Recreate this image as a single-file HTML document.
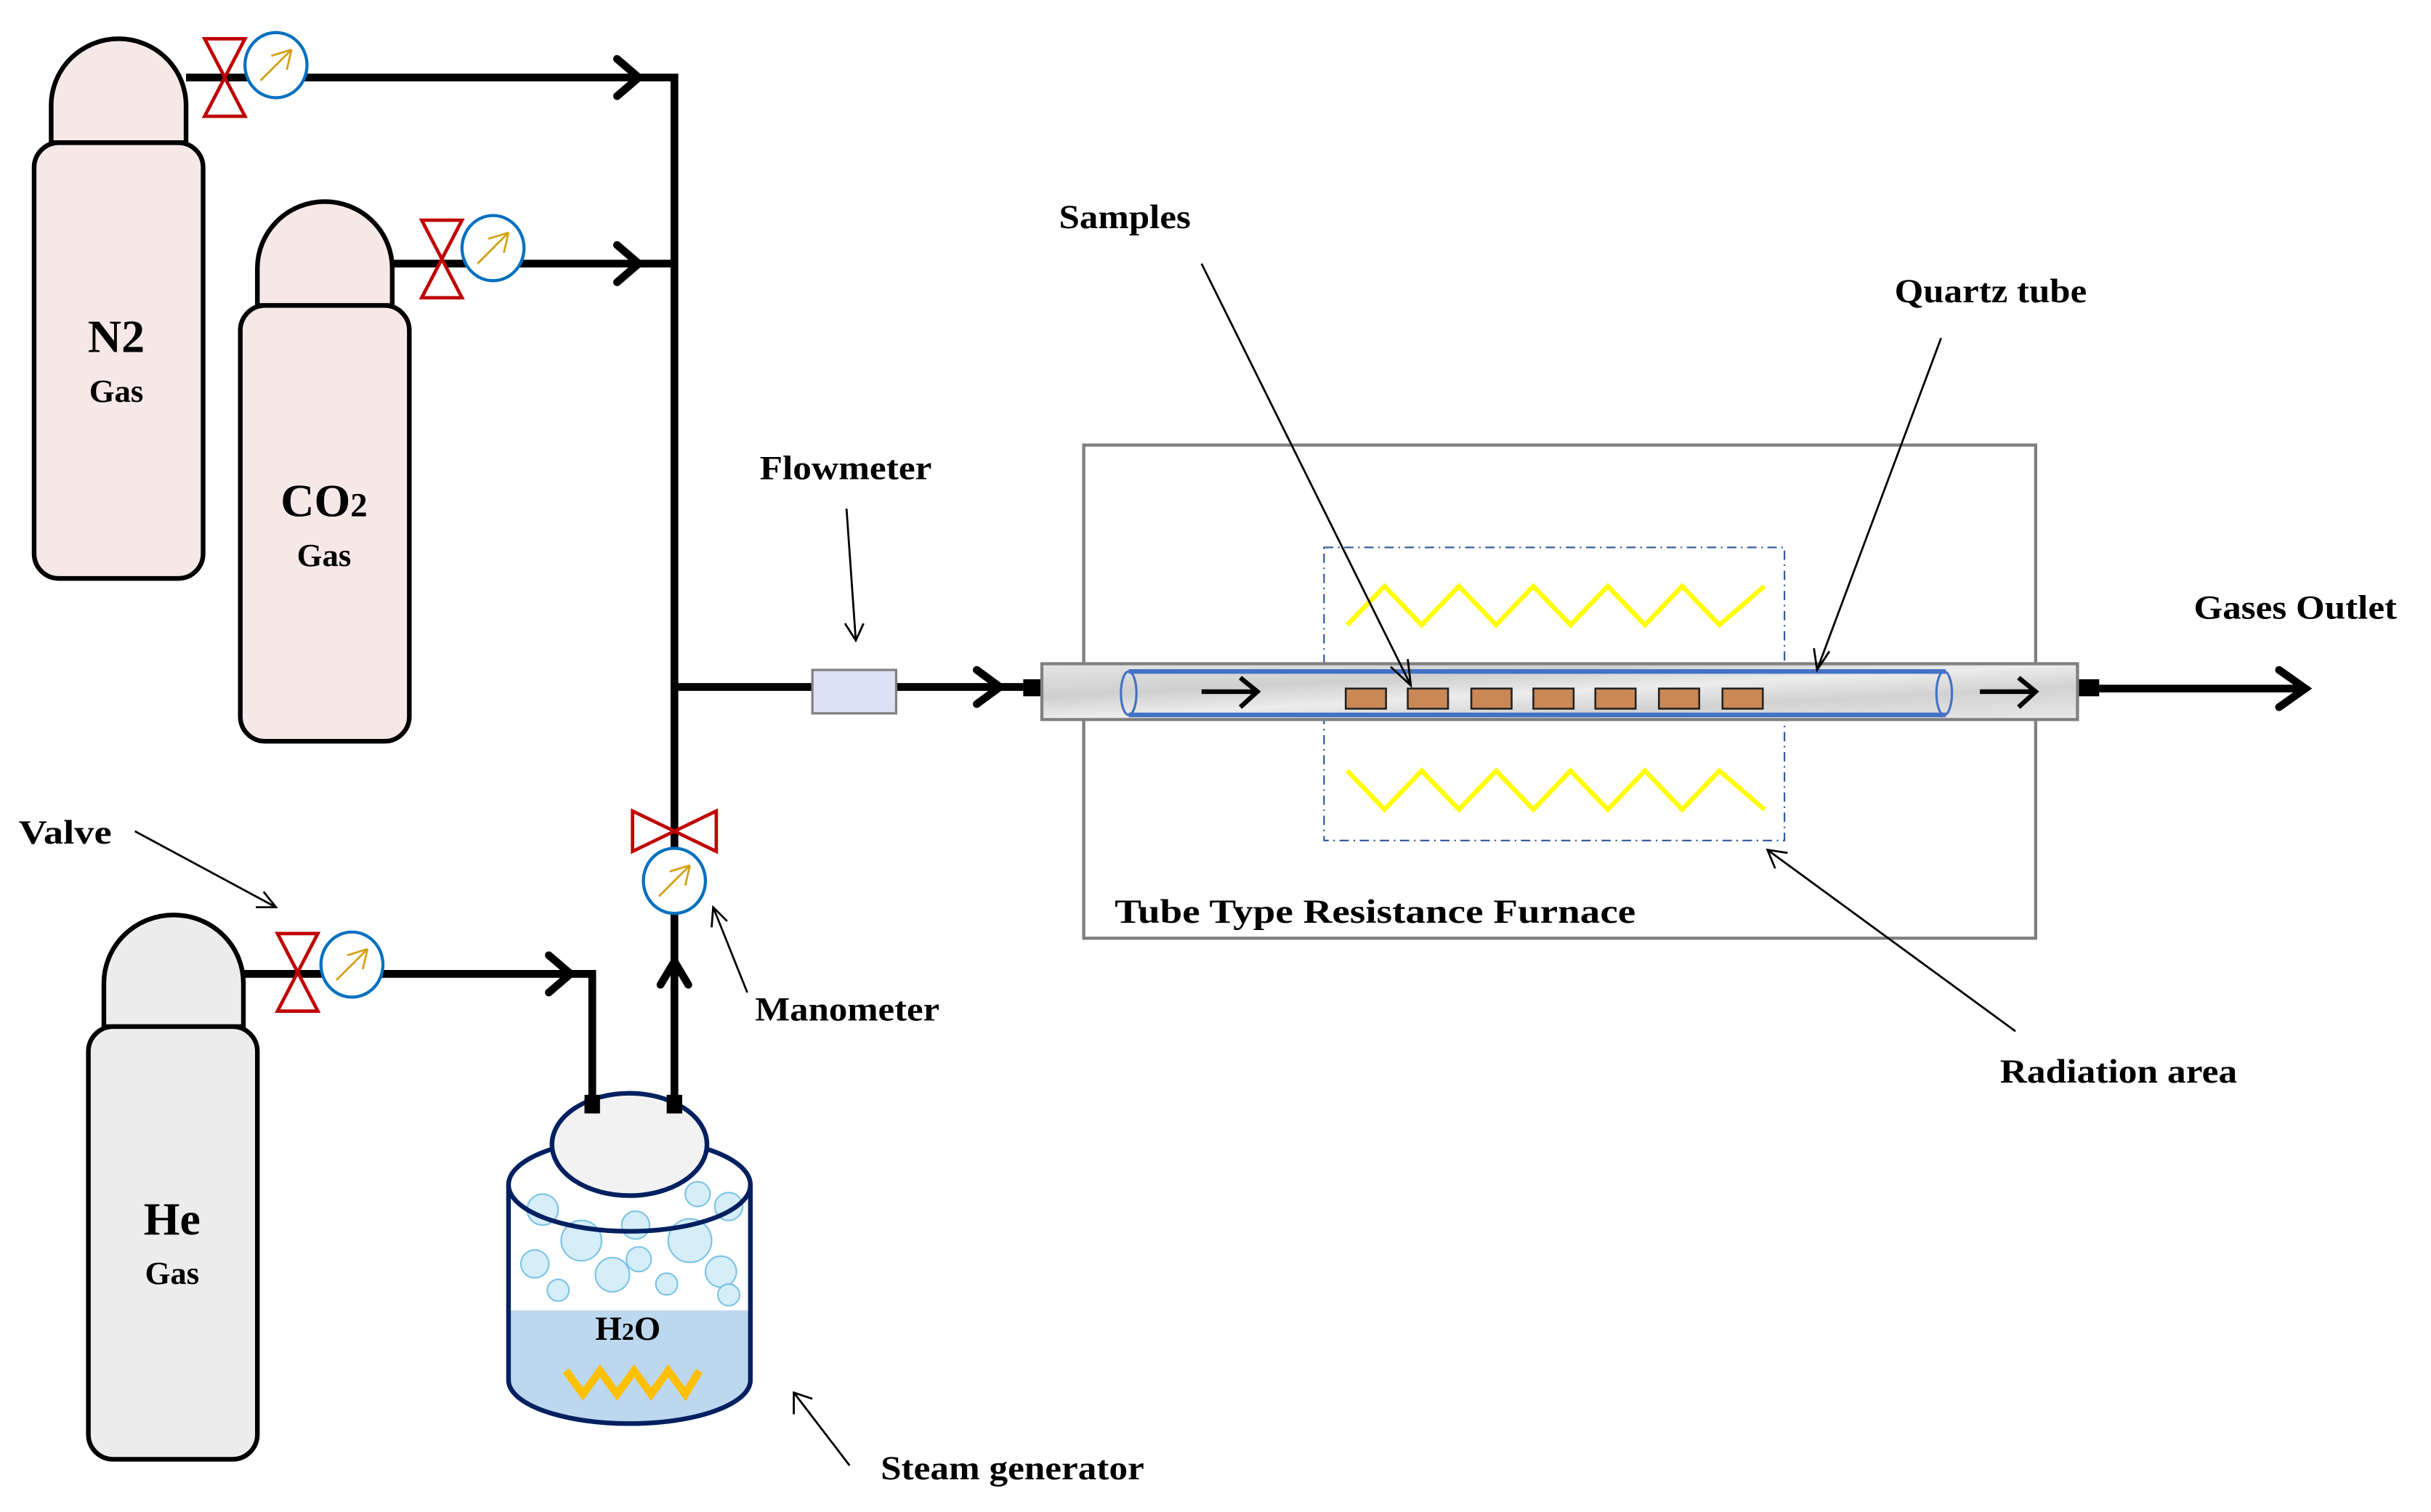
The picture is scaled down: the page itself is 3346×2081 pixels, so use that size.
<!DOCTYPE html>
<html><head><meta charset="utf-8"><style>
html,body{margin:0;padding:0;background:#fff}
svg{display:block}
text{font-family:"Liberation Serif",serif;font-weight:bold;fill:#000}
</style></head><body>
<svg width="3346" height="2081" viewBox="0 0 1568 975" preserveAspectRatio="none" xmlns="http://www.w3.org/2000/svg">
<defs>
<linearGradient id="marble" x1="0" y1="0" x2="1" y2="1">
<stop offset="0" stop-color="#e6e6e6"/><stop offset="0.3" stop-color="#cfcfcf"/><stop offset="0.5" stop-color="#ececec"/><stop offset="0.7" stop-color="#d2d2d2"/><stop offset="1" stop-color="#e8e8e8"/>
</linearGradient>
<g id="gauge"><ellipse cx="0" cy="0" rx="20" ry="21" fill="#fff" stroke="#0070c0" stroke-width="2"/>
<path d="M-10,10 L10,-10 M10,-10 L-3,-6 M10,-10 L7,3" stroke="#d4a017" stroke-width="1.3" fill="none"/></g>
<g id="vvalve"><path d="M-13,-25 L13,-25 L-13,25 L13,25 Z" fill="#fff" stroke="#c00000" stroke-width="2.2"/></g>
</defs>

<g stroke="#000" stroke-width="5" fill="none">
<path d="M120,50 H435 V712"/>
<path d="M253,170 H435"/>
<path d="M435,443 H660"/>
<path d="M157,628 H382 V712"/>
<path d="M1354,444 H1485"/>
</g>
<g stroke="#000" stroke-width="5" fill="none" stroke-linecap="round">
<path d="M398,38 L412,50 L398,62"/>
<path d="M398,158 L412,170 L398,182"/>
<path d="M630,432 L645,443 L630,454"/>
<path d="M354,616 L368,628 L354,640"/>
<path d="M1470,432 L1487,444 L1470,456"/>
<path d="M426,635 L435,620 L444,635"/>
</g>

<g stroke="#000" stroke-width="3">
<path d="M33,92 V68 A43.5,43 0 0 1 120,68 V92 Z" fill="#f6e8e7"/>
<rect x="22" y="92" width="109" height="281" rx="16" fill="#f6e8e7"/>
<path d="M166,197 V173 A43.5,43 0 0 1 253,173 V197 Z" fill="#f6e8e7"/>
<rect x="155" y="197" width="109" height="281" rx="16" fill="#f6e8e7"/>
<path d="M67,662 V634 A45,44 0 0 1 157,634 V662 Z" fill="#ececec"/>
<rect x="57" y="662" width="109" height="279" rx="16" fill="#ececec"/>
</g>
<text x="75" y="227" font-size="30" text-anchor="middle">N2</text>
<text x="75" y="259" font-size="21" text-anchor="middle">Gas</text>
<text x="209" y="333" font-size="30" text-anchor="middle">CO<tspan font-size="22">2</tspan></text>
<text x="209" y="365" font-size="21" text-anchor="middle">Gas</text>
<text x="111" y="796" font-size="30" text-anchor="middle">He</text>
<text x="111" y="828" font-size="21" text-anchor="middle">Gas</text>

<use href="#vvalve" x="145" y="50"/><use href="#gauge" x="178" y="42"/>
<use href="#vvalve" x="285" y="167"/><use href="#gauge" x="318" y="160"/>
<use href="#vvalve" x="192" y="627"/><use href="#gauge" x="227" y="622"/>
<path d="M408,523 L408,549 L462,523 L462,549 Z" fill="#fff" stroke="#c00000" stroke-width="2.2"/>
<use href="#gauge" x="435" y="568"/>

<rect x="524" y="432" width="54" height="28" fill="#dae3f3" stroke="#7f7f7f" stroke-width="1.5"/>

<rect x="699" y="287" width="614" height="318" fill="none" stroke="#7f7f7f" stroke-width="2"/>
<rect x="854" y="353" width="297" height="189" fill="none" stroke="#2f5597" stroke-width="1" stroke-dasharray="6,3,1,3"/>
<polyline points="869,403 893,378 917,403 941,378 965,403 989,378 1013,403 1037,378 1061,403 1085,378 1109,403 1138,378" fill="none" stroke="#ffff00" stroke-width="3"/>
<polyline points="869,497 893,522 917,497 941,522 965,497 989,522 1013,497 1037,522 1061,497 1085,522 1109,497 1138,522" fill="none" stroke="#ffff00" stroke-width="3"/>

<rect x="660" y="438" width="12" height="11" fill="#000"/>
<rect x="1340" y="438" width="14" height="11" fill="#000"/>
<rect x="672" y="428" width="668" height="36" fill="url(#marble)" stroke="#808080" stroke-width="2"/>
<path d="M728,433 H1255 M728,461 H1255" stroke="#4472c4" stroke-width="3"/>
<ellipse cx="728" cy="447" rx="5" ry="14" fill="none" stroke="#4472c4" stroke-width="1.5"/>
<ellipse cx="1254" cy="447" rx="5" ry="14" fill="none" stroke="#4472c4" stroke-width="1.5"/>
<g stroke="#000" stroke-width="3" fill="none">
<path d="M775,446 H810 M800,437 L811,446 L800,456"/>
<path d="M1277,446 H1312 M1302,437 L1313,446 L1302,456"/>
</g>
<g fill="#c98856" stroke="#222" stroke-width="1.2">
<rect x="868" y="444" width="26" height="13"/><rect x="908" y="444" width="26" height="13"/>
<rect x="949" y="444" width="26" height="13"/><rect x="989" y="444" width="26" height="13"/>
<rect x="1029" y="444" width="26" height="13"/><rect x="1070" y="444" width="26" height="13"/>
<rect x="1111" y="444" width="26" height="13"/>
</g>

<path d="M328,764 V890 A78,28 0 0 0 484,890 V764" fill="#fff" stroke="none"/>
<path d="M328,845 H484 V890 A78,28 0 0 1 328,890 Z" fill="#bdd7ee"/>
<g fill="#d6eef8" stroke="#7cc4e4" stroke-width="1">
<circle cx="350" cy="780" r="10"/><circle cx="375" cy="800" r="13"/><circle cx="410" cy="790" r="9"/><circle cx="445" cy="800" r="14"/><circle cx="470" cy="778" r="9"/>
<circle cx="345" cy="815" r="9"/><circle cx="395" cy="822" r="11"/><circle cx="430" cy="828" r="7"/><circle cx="465" cy="820" r="10"/><circle cx="450" cy="770" r="8"/>
<circle cx="360" cy="832" r="7"/><circle cx="412" cy="812" r="8"/><circle cx="470" cy="835" r="7"/>
</g>
<ellipse cx="406" cy="764" rx="78" ry="30" fill="none" stroke="#002060" stroke-width="3"/>
<path d="M328,764 V890 A78,28 0 0 0 484,890 V764" fill="none" stroke="#002060" stroke-width="3"/>
<ellipse cx="406" cy="738" rx="50" ry="33" fill="#f2f2f2" stroke="#002060" stroke-width="3"/>
<rect x="377" y="706" width="10" height="12" fill="#000"/>
<rect x="430" y="706" width="10" height="12" fill="#000"/>
<text x="405" y="864" font-size="22" text-anchor="middle">H<tspan font-size="16">2</tspan>O</text>
<polyline points="365,884 376,899 387,884 398,899 409,884 420,899 431,884 442,899 451,884" fill="none" stroke="#ffc000" stroke-width="5"/>

<g stroke="#000" stroke-width="1.3" fill="none">
<path d="M775,170 L910,442 M897,430 L910,442 L908,425"/>
<path d="M1252,218 L1172,432 M1170,418 L1172,432 L1180,420"/>
<path d="M546,328 L552,413 M545,402 L552,413 L557,402"/>
<path d="M87,536 L178,585 M165,585 L178,585 L170,575"/>
<path d="M482,640 L460,585 M459,598 L460,585 L469,594"/>
<path d="M1300,665 L1140,548 M1145,560 L1140,548 L1153,550"/>
<path d="M548,945 L512,898 M512,912 L512,898 L524,902"/>
</g>

<g font-size="22">
<text x="683" y="147" textLength="85" lengthAdjust="spacingAndGlyphs">Samples</text>
<text x="1222" y="195" textLength="124" lengthAdjust="spacingAndGlyphs">Quartz tube</text>
<text x="490" y="309" textLength="111" lengthAdjust="spacingAndGlyphs">Flowmeter</text>
<text x="1415" y="399" textLength="131" lengthAdjust="spacingAndGlyphs">Gases Outlet</text>
<text x="12" y="544" textLength="60" lengthAdjust="spacingAndGlyphs">Valve</text>
<text x="487" y="658" textLength="119" lengthAdjust="spacingAndGlyphs">Manometer</text>
<text x="719" y="595" textLength="336" lengthAdjust="spacingAndGlyphs">Tube Type Resistance Furnace</text>
<text x="1290" y="698" textLength="153" lengthAdjust="spacingAndGlyphs">Radiation area</text>
<text x="568" y="954" textLength="170" lengthAdjust="spacingAndGlyphs">Steam generator</text>
</g>
</svg>
</body></html>
